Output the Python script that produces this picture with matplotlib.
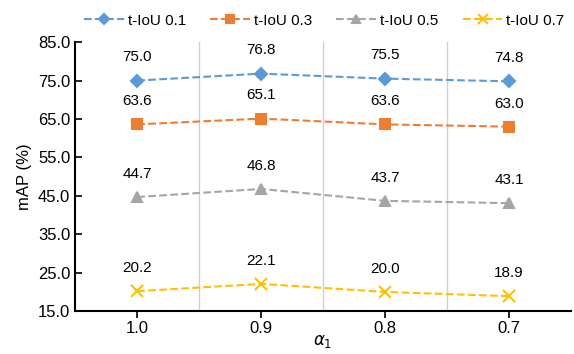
import numpy as np
import matplotlib.pyplot as plt

plt.rcParams["font.family"] = ["Liberation Sans", "DejaVu Sans"]

alphas = ["1.0", "0.9", "0.8", "0.7"]
iou01 = [75.0, 76.8, 75.5, 74.8]
iou03 = [63.6, 65.1, 63.6, 63.0]
iou05 = [44.7, 46.8, 43.7, 43.1]
iou07 = [20.2, 22.1, 20.0, 18.9]
names = ["t-IoU 0.1", "t-IoU 0.3", "t-IoU 0.5", "t-IoU 0.7"]

series = [iou01, iou03, iou05, iou07]
colors = ["#5B9BD5", "#ED7D31", "#A5A5A5", "#FFC000"]
markers = ["D", "s", "^", "x"]
msizes = [6, 7.5, 7.5, 8]

x = np.arange(len(alphas))

fig = plt.figure(figsize=(5.74, 3.54), dpi=100)
ax = fig.add_axes([0.131, 0.121, 0.864, 0.76])

for xv in [0.5, 1.5, 2.5]:
    ax.axvline(xv, color="#D0D0D0", lw=1, zorder=0)

for vals, c, m, ms, name in zip(series, colors, markers, msizes, names):
    ax.plot(x, vals, color=c, ls="--", lw=1.5, marker=m, ms=ms,
            mew=1.5, label=name)
    for xi, v in zip(x, vals):
        ax.text(xi, v + 4.2, f"{v:.1f}", ha="center", va="bottom", fontsize=11)

ax.set_xlim(-0.5, 3.5)
ax.set_ylim(15, 85)
ax.set_yticks(np.arange(15, 86, 10))
ax.set_yticklabels([f"{v:.1f}" for v in np.arange(15, 86, 10)])
ax.set_xticks(x)
ax.set_xticklabels(alphas)
ax.tick_params(axis="y", direction="in", labelsize=12, length=5, width=1.2)
ax.tick_params(axis="x", direction="out", labelsize=12, length=5, width=1.2, pad=2)

ax.spines["top"].set_visible(False)
ax.spines["right"].set_visible(False)
ax.spines["left"].set_linewidth(1.5)
ax.spines["bottom"].set_linewidth(1.5)

ax.set_ylabel("mAP (%)", fontsize=12)
ax.set_xlabel(r"$\alpha_1$", fontsize=12, labelpad=-2)

ax.legend(loc="lower center", bbox_to_anchor=(0.502, 1.02), ncol=4, frameon=False,
          fontsize=11, handlelength=2.6, columnspacing=1.6, handletextpad=0.25,
          markerscale=0.85, borderaxespad=0.2)

plt.savefig("out.png", dpi=100)
